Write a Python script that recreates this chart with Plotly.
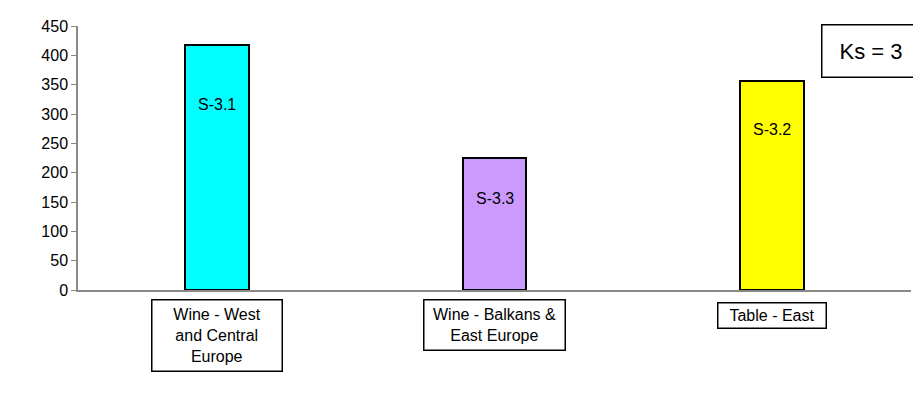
import plotly.graph_objects as go

categories = ["Wine - West<br>and Central<br>Europe", "Wine - Balkans &<br>East Europe", "Table - East"]
values = [418, 225, 356]
bar_labels = ["S-3.1", "S-3.3", "S-3.2"]
label_heights = [316, 156, 274]
colors = ["#00FFFF", "#CC99FF", "#FFFF00"]
y_ticks = [0, 50, 100, 150, 200, 250, 300, 350, 400, 450]

# box sizes for category label boxes (px)
box_w = [125, 136, 103]
box_h = [66, 45, 20]
box_shift = [-9, -9, -12]

font = "Liberation Sans, Arial, sans-serif"

fig = go.Figure()
fig.add_trace(go.Bar(
    x=[0, 1, 2], y=values, width=0.23,
    marker=dict(color=colors, line=dict(color="black", width=2)),
    hoverinfo="skip", showlegend=False,
))

for i, (lab, h) in enumerate(zip(bar_labels, label_heights)):
    fig.add_annotation(x=i, y=h, text=lab, showarrow=False,
                       font=dict(family=font, size=16, color="black"))

for i, cat in enumerate(categories):
    fig.add_annotation(x=i, y=0, yref="y", text=cat, showarrow=False,
                       yanchor="top", yshift=box_shift[i],
                       width=box_w[i], height=box_h[i], align="center", valign="middle",
                       font=dict(family=font, size=16, color="black"),
                       bordercolor="black", borderwidth=1.5, borderpad=2,
                       bgcolor="white")

fig.add_annotation(xref="paper", yref="paper", x=1.012, y=1.0075, xanchor="right", yanchor="top",
                   text="Ks = 3", showarrow=False,
                   width=93, height=47, align="center", valign="middle",
                   font=dict(family=font, size=22, color="black"),
                   bordercolor="black", borderwidth=1.5, borderpad=2,
                   bgcolor="white")

# page body has an 8px margin, so the figure is offset by 8px right and down
fig.update_layout(
    width=913, height=398,
    margin=dict(l=70, r=10, t=14, b=116),
    plot_bgcolor="white", paper_bgcolor="white",
    bargap=0,
    xaxis=dict(range=[-0.5, 2.5], showticklabels=False, showgrid=False, zeroline=False,
               showline=True, linecolor="#888888", linewidth=1.5, ticks=""),
    yaxis=dict(range=[0, 450], tickvals=y_ticks, showgrid=False, zeroline=False,
               showline=True, linecolor="#888888", linewidth=1.5,
               ticks="outside", ticklen=5, tickcolor="#888888",
               tickfont=dict(family=font, size=16, color="black")),
)

fig.write_html("out.html")
